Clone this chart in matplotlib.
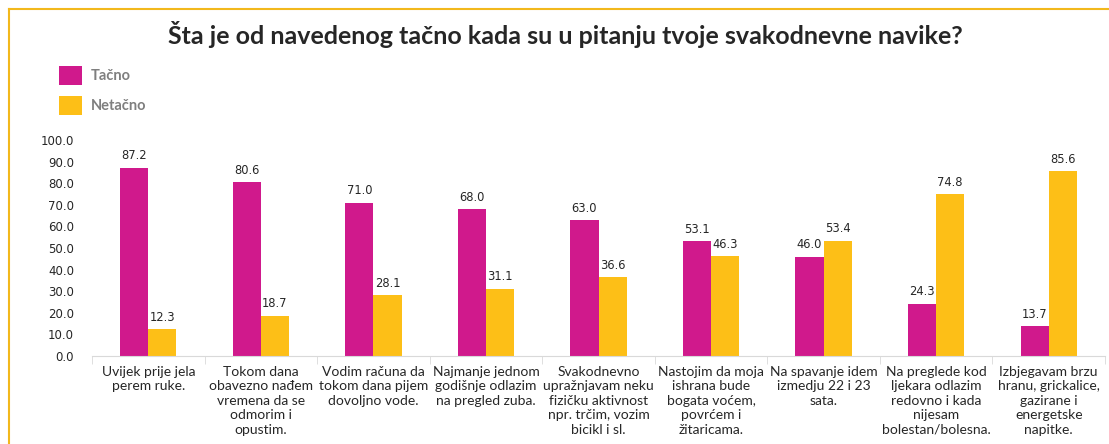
import matplotlib.pyplot as plt
import numpy as np
from matplotlib.lines import Line2D

categories = [
    "Uvijek prije jela\nperem ruke.",
    "Tokom dana\nobavezno nađem\nvremena da se\nodmorim i\nopustim.",
    "Vodim računa da\ntokom dana pijem\ndovoljno vode.",
    "Najmanje jednom\ngodišnje odlazim\nna pregled zuba.",
    "Svakodnevno\nupražnjavam neku\nfizičku aktivnost\nnpr. trčim, vozim\nbicikl i sl.",
    "Nastojim da moja\nishrana bude\nbogata voćem,\npovrćem i\nžitaricama.",
    "Na spavanje idem\nizmedju 22 i 23\nsata.",
    "Na preglede kod\nljekara odlazim\nredovno i kada\nnijesam\nbolestan/bolesna.",
    "Izbjegavam brzu\nhranu, grickalice,\ngazirane i\nenergetske\nnapitke.",
]
tacno = [87.2, 80.6, 71.0, 68.0, 63.0, 53.1, 46.0, 24.3, 13.7]
netacno = [12.3, 18.7, 28.1, 31.1, 36.6, 46.3, 53.4, 74.8, 85.6]
yticks = [0, 10, 20, 30, 40, 50, 60, 70, 80, 90, 100]

magenta = "#D0198C"
yellow = "#FDBF17"
W, H = 1109, 444

fig = plt.figure(figsize=(W / 100, H / 100), dpi=100)
fig.patch.set_facecolor("white")

# yellow frame (top and left edges)
fig.add_artist(Line2D([9 / W, 1], [1 - 9 / H, 1 - 9 / H], color="#F2B81C", lw=1.5))
fig.add_artist(Line2D([9 / W, 9 / W], [0, 1 - 9 / H], color="#F2B81C", lw=1.5))

ax = fig.add_axes([92 / W, 1 - 356 / H, (1105 - 92) / W, (356 - 140) / H])
x = np.arange(len(categories))
w = 0.25
b1 = ax.bar(x - w / 2, tacno, w, color=magenta, label="Tačno")
b2 = ax.bar(x + w / 2, netacno, w, color=yellow, label="Netačno")

for bars, vals in [(b1, tacno), (b2, netacno)]:
    for r, v in zip(bars, vals):
        ax.text(r.get_x() + r.get_width() / 2, v + 2.5, f"{v:.1f}",
                ha="center", va="bottom", fontsize=8.3, color="#262626")

ax.set_xlim(-0.5, len(categories) - 0.5)
ax.set_ylim(0, 100)
ax.set_yticks(yticks)
ax.set_yticklabels([f"{t:.1f}" for t in yticks], fontsize=8.5, color="#262626")
ax.tick_params(axis="y", length=0, pad=13)

ax.set_xticks(x)
ax.set_xticklabels(categories, fontsize=10, family="Lato", color="#262626",
                   linespacing=1.25, va="top")
ax.tick_params(axis="x", length=0, pad=7)
ax.set_xticks(np.arange(len(categories) + 1) - 0.5, minor=True)
ax.tick_params(axis="x", which="minor", length=6, color="#D9D9D9")

for s in ["top", "right", "left"]:
    ax.spines[s].set_visible(False)
ax.spines["bottom"].set_color("#D9D9D9")

fig.text(565 / W, 1 - 35 / H, "Šta je od navedenog tačno kada su u pitanju tvoje svakodnevne navike?",
         ha="center", va="center", fontsize=18, fontweight="bold", family="Lato", color="#262626")

leg = fig.legend(handles=[b1, b2], labels=["Tačno", "Netačno"], loc="upper left",
                 bbox_to_anchor=(46 / W, 1 - 53 / H), frameon=False,
                 prop={"family": "Lato", "size": 10.5, "weight": "bold"},
                 handlelength=1.6, handleheight=1.6, labelspacing=0.75, handletextpad=0.6)
for t in leg.get_texts():
    t.set_color("#7F7F7F")

fig.savefig("out.png", dpi=100)
